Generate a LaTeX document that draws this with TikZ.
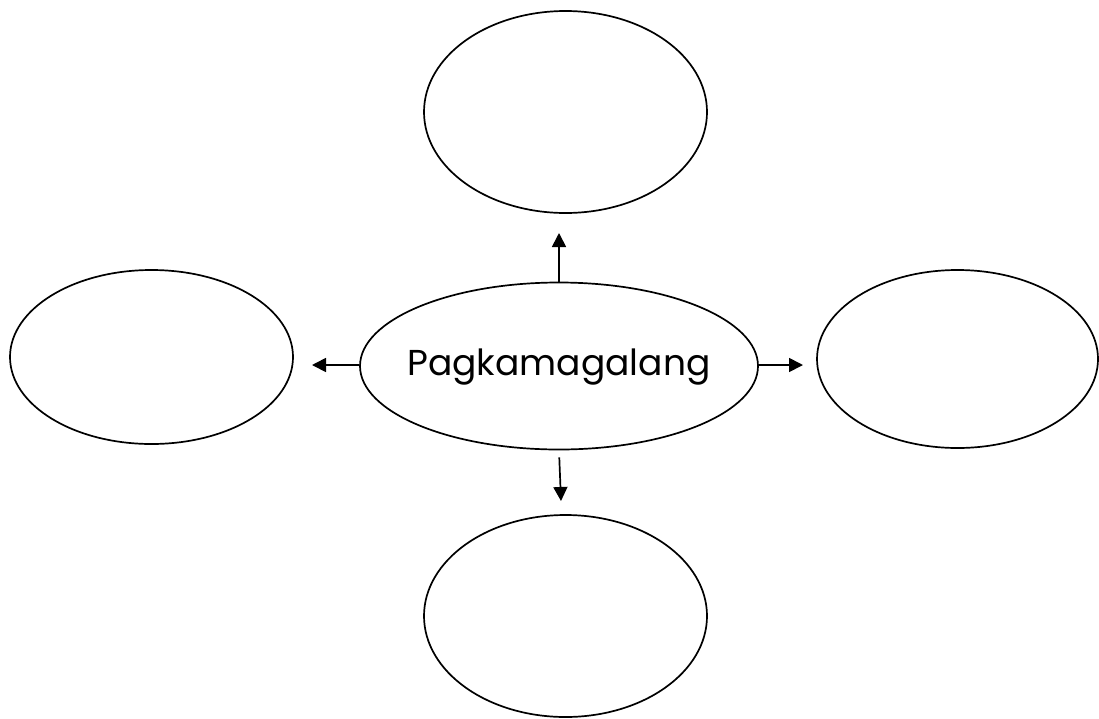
\documentclass[tikz,border=0pt]{standalone}
\usepackage{fontspec}
\setmainfont{Poppins}
\usetikzlibrary{shapes.geometric,arrows.meta}
\begin{document}
\begin{tikzpicture}[x=1pt,y=-1pt,
  bubble/.style={draw=black,line width=1.7pt,shape=ellipse,inner sep=0pt,fill=white},
  arr/.style={line width=1.7pt,-{Triangle[length=14pt,width=14pt]}}]
\useasboundingbox[fill=white] (0,0) rectangle (1099,718);
\node[bubble,minimum width=283pt,minimum height=202pt] (top) at (565.5,112) {};
\node[bubble,minimum width=283pt,minimum height=174pt] (left) at (151.5,357) {};
\node[bubble,minimum width=281pt,minimum height=178pt] (right) at (957.5,359) {};
\node[bubble,minimum width=283pt,minimum height=202pt] (bottom) at (565.5,616) {};
\node[bubble,minimum width=398pt,minimum height=167pt] (c) at (559,366) {};
\node[anchor=base,inner sep=0pt,font=\fontsize{36}{40}\selectfont] (lbl) at (559,375) {Pagkamagalang};
\coordinate (tu) at (559,233);
\coordinate (tl) at (312,365);
\coordinate (tr) at (803,365);
\coordinate (td) at (561,501);
\draw[arr] (c.north) -- (tu);
\draw[arr] (c.west |- tl) -- (tl);
\draw[arr] (c.east |- tr) -- (tr);
\draw[arr,shorten <=7pt] (c.south) -- (td);
\end{tikzpicture}
\end{document}
